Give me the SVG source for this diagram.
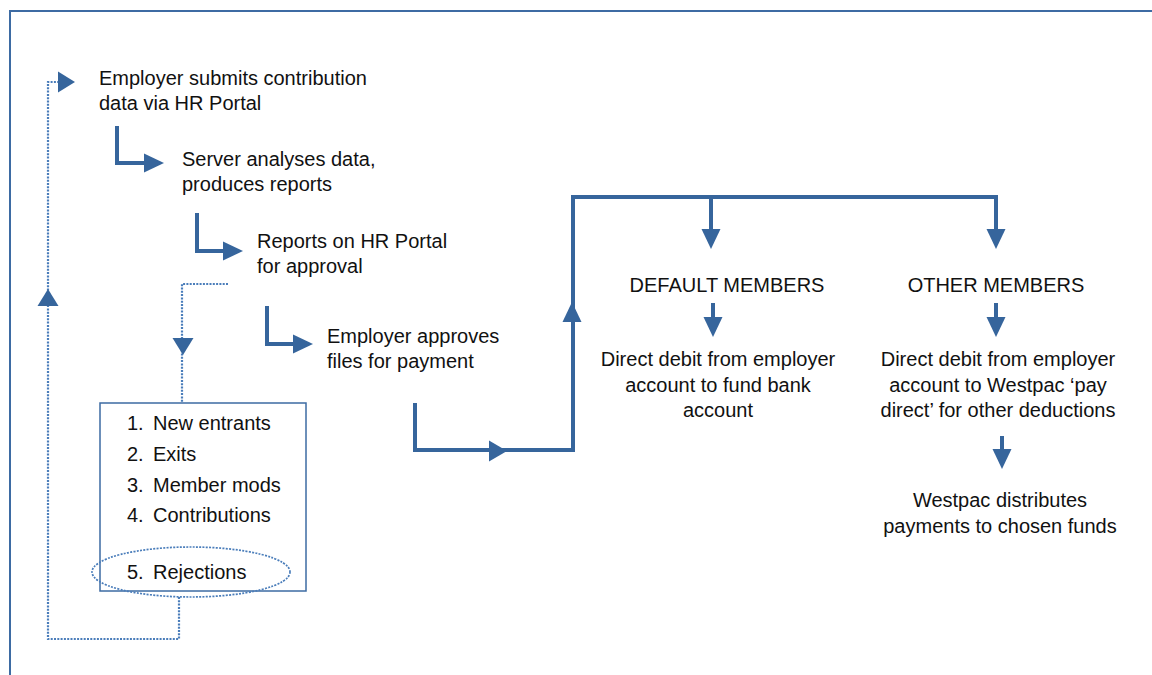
<svg xmlns="http://www.w3.org/2000/svg" width="1152" height="675" viewBox="0 0 1152 675">
<style>
  text { font-family: "Liberation Sans", Arial, sans-serif; font-size: 20px; fill: #111; }
  .mid { text-anchor: middle; }
  .solid { fill: none; stroke: #36659c; stroke-width: 4; stroke-linejoin: miter; }
  .dot { fill: none; stroke: #4a7dba; stroke-width: 2.2; stroke-dasharray: 2 1.3; }
  .head { fill: #36659c; }
  .frame { fill: none; stroke: #3d6ba3; stroke-width: 2; }
  .box { fill: #fff; stroke: #3d6ba3; stroke-width: 1.5; }
</style>
<defs>
  <path id="ah" d="M0,0 L-20,-9.5 L-20,9.5 Z"/>
  <path id="ahs" d="M0,0 L-17,-10.5 L-17,10.5 Z"/>
</defs>
<rect width="1152" height="675" fill="#fff"/>
<path class="frame" d="M10,675 V11 H1152"/>

<g id="connectors">
  <path class="solid" d="M117,126 V163 H150"/>
  <use href="#ah" class="head" transform="translate(164,163)"/>
  <path class="solid" d="M197,213 V251 H230"/>
  <use href="#ah" class="head" transform="translate(243,251)"/>
  <path class="solid" d="M267,306 V344 H300"/>
  <use href="#ah" class="head" transform="translate(313,344)"/>
  <path class="solid" d="M415,403 V450 H573 V197 H996 V235"/>
  <path class="solid" d="M711,197 V235"/>
  <use href="#ah" class="head" transform="translate(507,451) scale(0.9,1.1)"/>
  <use href="#ah" class="head" transform="translate(572,302) rotate(-90)"/>
  <use href="#ah" class="head" transform="translate(711,249) rotate(90)"/>
  <use href="#ah" class="head" transform="translate(996,249) rotate(90)"/>
  <path class="solid" d="M713,303 V320"/>
  <use href="#ah" class="head" transform="translate(713,337) rotate(90)"/>
  <path class="solid" d="M996,303 V320"/>
  <use href="#ah" class="head" transform="translate(996,337) rotate(90)"/>
  <path class="solid" d="M1002,436 V452"/>
  <use href="#ah" class="head" transform="translate(1002,469) rotate(90)"/>
  <path class="dot" d="M179,597 V639 H48 V82 H60"/>
  <use href="#ahs" class="head" transform="translate(75,82)"/>
  <use href="#ahs" class="head" transform="translate(48,289) rotate(-90)"/>
  <path class="dot" d="M228,284 H182 V403"/>
  <use href="#ahs" class="head" transform="translate(183,355) rotate(90)"/>
</g>

<g id="step1">
  <text x="99" y="85">Employer submits contribution</text>
  <text x="99" y="110">data via HR Portal</text>
</g>
<g id="step2">
  <text x="182" y="166">Server analyses data,</text>
  <text x="182" y="191">produces reports</text>
</g>
<g id="step3">
  <text x="257" y="248">Reports on HR Portal</text>
  <text x="257" y="273">for approval</text>
</g>
<g id="step4">
  <text x="327" y="343">Employer approves</text>
  <text x="327" y="368">files for payment</text>
</g>
<g id="reportlist">
  <rect class="box" x="100" y="403" width="206" height="188"/>
  <text x="127" y="430">1.</text><text x="153" y="430">New entrants</text>
  <text x="127" y="461">2.</text><text x="153" y="461">Exits</text>
  <text x="127" y="492">3.</text><text x="153" y="492">Member mods</text>
  <text x="127" y="522">4.</text><text x="153" y="522">Contributions</text>
  <text x="127" y="579">5.</text><text x="153" y="579">Rejections</text>
</g>
<g id="rejections">
  <ellipse class="dot" cx="191" cy="572" rx="99" ry="25" style="stroke-width:1.7"/>
</g>
<g id="default-members">
  <text class="mid" x="727" y="292">DEFAULT MEMBERS</text>
</g>
<g id="default-debit">
  <text class="mid" x="718" y="366">Direct debit from employer</text>
  <text class="mid" x="718" y="392">account to fund bank</text>
  <text class="mid" x="718" y="417">account</text>
</g>
<g id="other-members">
  <text class="mid" x="996" y="292">OTHER MEMBERS</text>
</g>
<g id="other-debit">
  <text class="mid" x="998" y="366">Direct debit from employer</text>
  <text class="mid" x="998" y="392">account to Westpac ‘pay</text>
  <text class="mid" x="998" y="417">direct’ for other deductions</text>
</g>
<g id="westpac">
  <text class="mid" x="1000" y="507">Westpac distributes</text>
  <text class="mid" x="1000" y="533">payments to chosen funds</text>
</g>
</svg>
